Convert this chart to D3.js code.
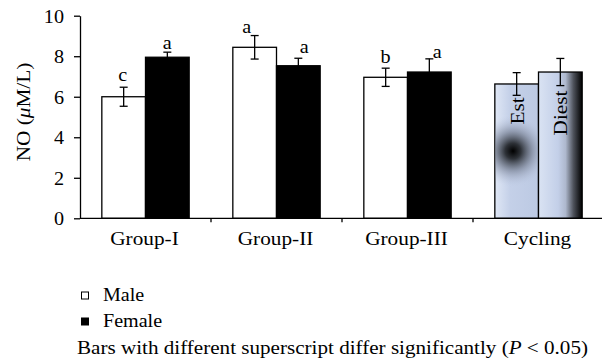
<!DOCTYPE html>
<html><head><meta charset="utf-8">
<script src="https://cdn.jsdelivr.net/npm/d3@7/dist/d3.min.js"></script>
<style>
body{margin:0;background:#fff;}
svg{display:block;}
svg text{font-family:"Liberation Serif","Times New Roman",serif;}
</style></head>
<body><svg id="c" width="602" height="364"></svg>
<script>
// ---- data ----
const categories = ["Group-I", "Group-II", "Group-III", "Cycling"];
const series = ["Male", "Female"];
const firstBar = [6.0, 8.44, 6.96, 6.63];      // Male (Est for Cycling)
const firstErr = [0.47, 0.58, 0.45, 0.56];
const secondBar = [7.95, 7.53, 7.22, 7.22];    // Female (Diest for Cycling)
const secondErr = [0.25, 0.37, 0.65, 0.67];
const firstLetters = ["c", "a", "b", ""];
const secondLetters = ["a", "a", "a", ""];
const cyclingLabels = ["Est", "Diest"];
const yTicks = [0, 2, 4, 6, 8, 10];
const legendItems = ["Male", "Female"];
const footnote = "Bars with different superscript differ significantly (";

// ---- layout ----
const FONT = "Liberation Serif";
const SX = 1.12; // horizontal stretch to mimic the wider original serif
const svg = d3.select("#c");
const mLeft = 80, mRight = 604, mTop = 15.7, mBottom = 218.3;
const x0 = d3.scaleBand().domain(categories).range([mLeft, mRight]).padding(0);
const x1 = d3.scaleBand().domain([0, 1]).range([0, x0.bandwidth()]).paddingInner(0).paddingOuter(0.5);
const y = d3.scaleLinear().domain([0, 10]).range([mBottom, mTop]);

const defs = svg.append("defs");
const rg = defs.append("radialGradient").attr("id", "estGrad")
  .attr("gradientUnits", "userSpaceOnUse").attr("cx", 513).attr("cy", 151).attr("r", 36);
rg.append("stop").attr("offset", "0%").attr("stop-color", "#000");
rg.append("stop").attr("offset", "22%").attr("stop-color", "#2e3238");
rg.append("stop").attr("offset", "55%").attr("stop-color", "#7d8699").attr("stop-opacity", 0.7);
rg.append("stop").attr("offset", "100%").attr("stop-color", "#bfcbe4").attr("stop-opacity", 0);
const estBase = defs.append("linearGradient").attr("id", "estBase").attr("x1", 0).attr("x2", 1).attr("y1", 0).attr("y2", 0);
estBase.append("stop").attr("offset", "0%").attr("stop-color", "#dfe7f5");
estBase.append("stop").attr("offset", "35%").attr("stop-color", "#c4d0e8");
estBase.append("stop").attr("offset", "100%").attr("stop-color", "#bcc9e3");
const lg = defs.append("linearGradient").attr("id", "diestGrad").attr("x1", 0).attr("x2", 1).attr("y1", 0).attr("y2", 0);
lg.append("stop").attr("offset", "0%").attr("stop-color", "#dae3f3");
lg.append("stop").attr("offset", "45%").attr("stop-color", "#c3cfe8");
lg.append("stop").attr("offset", "62%").attr("stop-color", "#aeb8cd");
lg.append("stop").attr("offset", "80%").attr("stop-color", "#4e525b");
lg.append("stop").attr("offset", "100%").attr("stop-color", "#000");

// bars
const bars = [];
categories.forEach((c, i) => {
  bars.push({c, s: 0, v: firstBar[i], e: firstErr[i], l: firstLetters[i], i});
  bars.push({c, s: 1, v: secondBar[i], e: secondErr[i], l: secondLetters[i], i});
});
const fillFor = d => d.c === "Cycling" ? (d.s === 0 ? "url(#estBase)" : "url(#diestGrad)") : (d.s === 0 ? "#fff" : "#000");
const g = svg.append("g");
g.selectAll("rect.bar").data(bars).join("rect")
  .attr("x", d => x0(d.c) + x1(d.s)).attr("width", x1.bandwidth())
  .attr("y", d => y(d.v)).attr("height", d => y(0) - y(d.v))
  .attr("fill", fillFor).attr("stroke", "#000").attr("stroke-width", 1.3);
// radial overlay for Est
const est = bars.find(d => d.c === "Cycling" && d.s === 0);
g.append("rect").attr("x", x0(est.c) + x1(0) + 0.7).attr("width", x1.bandwidth() - 1.4)
  .attr("y", y(est.v) + 0.7).attr("height", y(0) - y(est.v) - 1.4)
  .attr("fill", "url(#estGrad)");

// error bars
const cx = d => x0(d.c) + x1(d.s) + x1.bandwidth() / 2;
const eg = g.selectAll("g.err").data(bars).join("g").attr("stroke", "#000").attr("stroke-width", 1.3);
eg.append("line").attr("x1", cx).attr("x2", cx).attr("y1", d => y(d.v + d.e)).attr("y2", d => y(d.v - d.e));
eg.append("line").attr("x1", d => cx(d) - 4).attr("x2", d => cx(d) + 4).attr("y1", d => y(d.v + d.e)).attr("y2", d => y(d.v + d.e));
eg.append("line").attr("x1", d => cx(d) - 4).attr("x2", d => cx(d) + 4).attr("y1", d => y(d.v - d.e)).attr("y2", d => y(d.v - d.e));

// letters
const letterDx = {"Group-I0": -1, "Group-I1": 0, "Group-II0": -8, "Group-II1": 6, "Group-III0": 0, "Group-III1": 8};
const letterDy = {"Group-I0": -6, "Group-I1": -3, "Group-II0": -3, "Group-II1": -5, "Group-III0": -5, "Group-III1": -1};
g.selectAll("text.let").data(bars.filter(d => d.l)).join("text")
  .attr("transform", d => `translate(${cx(d) + letterDx[d.c + d.s]},${y(d.v + d.e) + letterDy[d.c + d.s]}) scale(${SX},1)`)
  .attr("font-family", FONT).attr("text-anchor", "middle").attr("font-size", 18).text(d => d.l);

// cycling rotated labels
const cyc = bars.filter(d => d.c === "Cycling");
g.selectAll("text.cyc").data(cyc).join("text")
  .attr("transform", (d, k) => `translate(${cx(d) + 7},${k === 0 ? 111 : 113}) rotate(-90) scale(${SX},1)`)
  .attr("font-family", FONT).attr("text-anchor", "middle").attr("font-size", 19).text((d, k) => cyclingLabels[k]);

// axes
const ya = svg.append("g").attr("transform", `translate(${mLeft},0)`)
  .call(d3.axisLeft(y).tickValues(yTicks).tickSize(6).tickSizeOuter(0).tickPadding(0));
ya.attr("font-family", FONT);
ya.select(".domain").attr("stroke-width", 1.3);
ya.selectAll(".tick line").attr("stroke-width", 1.3);
ya.selectAll(".tick text").attr("x", null).attr("dy", null)
  .attr("transform", `translate(-16,6.3) scale(${SX},1)`)
  .attr("font-size", 18).attr("font-family", FONT).attr("fill", "#000");

const xb = svg.append("g").attr("transform", `translate(0,${mBottom})`);
xb.append("line").attr("x1", mLeft).attr("x2", mRight).attr("stroke", "#000").attr("stroke-width", 1.3);
xb.selectAll("line.tk").data(categories.slice(1)).join("line")
  .attr("x1", d => x0(d)).attr("x2", d => x0(d)).attr("y1", 0).attr("y2", 4)
  .attr("stroke", "#000").attr("stroke-width", 1.3);
xb.selectAll("text").data(categories).join("text")
  .attr("transform", d => `translate(${x0(d) + x0.bandwidth() / 2 - 1},27) scale(${SX},1)`)
  .attr("font-family", FONT).attr("text-anchor", "middle").attr("font-size", 19).text(d => d);

// y label
const yl = svg.append("text").attr("transform", `translate(30,112) rotate(-90) scale(${SX},1)`)
  .attr("font-family", FONT).attr("text-anchor", "middle").attr("font-size", 19);
yl.append("tspan").text("NO (");
yl.append("tspan").attr("font-style", "italic").text("μ");
yl.append("tspan").text("M/L)");

// legend
const lgd = svg.append("g");
legendItems.forEach((name, k) => {
  const yy = 301 + k * 26;
  lgd.append("rect").attr("x", 81.5).attr("y", yy - 9).attr("width", 7).attr("height", 7)
    .attr("fill", k === 0 ? "#fff" : "#000").attr("stroke", "#000").attr("stroke-width", 1);
  lgd.append("text").attr("transform", `translate(103,${yy}) scale(1.03,1)`)
    .attr("font-family", FONT).attr("font-size", 19.5).text(name);
});
const fn = svg.append("text").attr("x", 77).attr("y", 354).attr("font-size", 19.5).attr("font-family", FONT)
  .attr("textLength", 511).attr("lengthAdjust", "spacingAndGlyphs");
fn.append("tspan").text(footnote);
fn.append("tspan").attr("font-style", "italic").text("P");
fn.append("tspan").text(" < 0.05)");
</script></body></html>
